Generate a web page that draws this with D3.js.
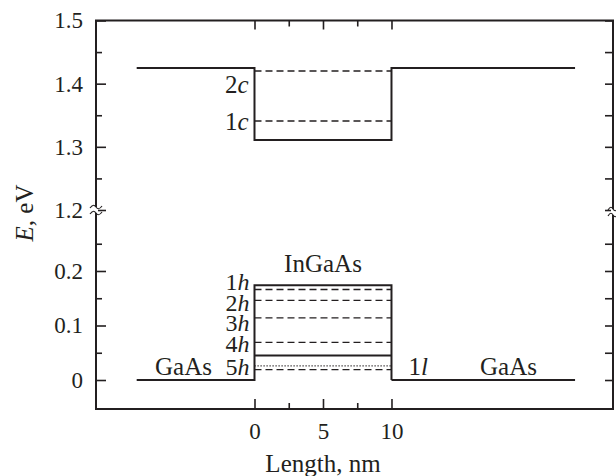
<!DOCTYPE html>
<html><head><meta charset="utf-8">
<script src="https://cdn.jsdelivr.net/npm/d3@7"></script>
<style>body{margin:0;background:#fff}svg{display:block}svg text{font-family:"Liberation Serif",serif}</style>
</head><body>
<script>
// ---- data ----
const xMajorTicks = [0, 5, 10];
const xMinorTicks = [2.5, 7.5];
const yUpperMajor = [1.2, 1.3, 1.4, 1.5];
const yUpperMinor = [1.25, 1.35, 1.45];
const yLowerMajor = [0, 0.1, 0.2];
const yLowerMinor = [0.05, 0.15, 0.25];
// conduction band profile (solid)
const conductionBand = [[-8.6,1.425],[0,1.425],[0,1.311],[10,1.311],[10,1.425],[23.4,1.425]];
// heavy-hole valence band profile (solid)
const valenceBand = [[-8.6,0],[0,0],[0,0.174],[10,0.174],[10,0]];
const valenceRight = [[10,0],[23.4,0]];
// light-hole band edge inside well
const lightHoleEdge = [[0,0.045],[10,0.045]];
// confined levels
const electronLevels = [{name:"2",s:"c",E:1.420},{name:"1",s:"c",E:1.341}];
const holeLevels = [{name:"1",s:"h",E:0.166},{name:"2",s:"h",E:0.146},{name:"3",s:"h",E:0.114},{name:"4",s:"h",E:0.069},{name:"5",s:"h",E:0.019}];
const lightLevels = [{name:"1",s:"l",E:0.026}];
const wellRange = [0, 10];

const W = 616, H = 476;
const ink = "#231f20";
const font = "Liberation Serif";
const svg = d3.select("body").append("svg").attr("width", W).attr("height", H).attr("font-family", font);

const L = 96, R = 613, T = 20.5, B = 409, BRK = 210;
const x = d3.scaleLinear().domain([-11.57, 26.17]).range([L, R]);
const yU = d3.scaleLinear().domain([1.2, 1.5]).range([BRK, T]);
const yD = d3.scaleLinear().domain([-0.0532, 0.3119]).range([B, BRK]);

const line = (ys) => d3.line().x(d => x(d[0])).y(d => ys(d[1]));

// frame
svg.append("path").attr("fill","none").attr("stroke",ink).attr("stroke-width",2)
  .attr("d", `M${L},${T}H${R}V${B}H${L}Z`);

// ticks via d3 axes (inward)
function styleAxis(g){ g.attr("font-family", font).attr("font-size", 23);
  g.select(".domain").remove(); g.selectAll("line").attr("stroke",ink).attr("stroke-width",1.6);
  g.selectAll("text").attr("fill",ink); }
const fmt = d => d === 0 ? "0" : d3.format(".1f")(d);
svg.append("g").attr("transform",`translate(${L},0)`).call(d3.axisLeft(yU).tickValues(yUpperMajor).tickSize(-10).tickPadding(13).tickFormat(fmt)).call(styleAxis);
svg.append("g").attr("transform",`translate(${L},0)`).call(d3.axisLeft(yU).tickValues(yUpperMinor).tickSize(-6).tickFormat("")).call(styleAxis);
svg.append("g").attr("transform",`translate(${L},0)`).call(d3.axisLeft(yD).tickValues(yLowerMajor).tickSize(-10).tickPadding(13).tickFormat(fmt)).call(styleAxis);
svg.append("g").attr("transform",`translate(${L},0)`).call(d3.axisLeft(yD).tickValues(yLowerMinor).tickSize(-6).tickFormat("")).call(styleAxis);
svg.append("g").attr("transform",`translate(${R},0)`).call(d3.axisRight(yU).tickValues(yUpperMajor.concat(yUpperMinor)).tickSize(-8).tickFormat("")).call(styleAxis);
svg.append("g").attr("transform",`translate(${R},0)`).call(d3.axisRight(yD).tickValues(yLowerMajor.concat(yLowerMinor)).tickSize(-8).tickFormat("")).call(styleAxis);
svg.append("g").attr("transform",`translate(0,${B})`).call(d3.axisBottom(x).tickValues(xMajorTicks).tickSize(-10).tickPadding(14).tickFormat(d3.format("d"))).call(styleAxis);
svg.append("g").attr("transform",`translate(0,${B})`).call(d3.axisBottom(x).tickValues(xMinorTicks).tickSize(-6).tickFormat("")).call(styleAxis);
svg.append("g").attr("transform",`translate(0,${T})`).call(d3.axisTop(x).tickValues(xMajorTicks).tickSize(-9).tickFormat("")).call(styleAxis);
svg.append("g").attr("transform",`translate(0,${T})`).call(d3.axisTop(x).tickValues(xMinorTicks).tickSize(-6).tickFormat("")).call(styleAxis);

// axis break marks
function breakMark(cx, cy, w){
  svg.append("rect").attr("x",cx-2).attr("y",cy-3).attr("width",4).attr("height",6).attr("fill","#fff");
  [-3,3].forEach(dy=>{
    const y0 = cy+dy;
    svg.append("path").attr("fill","none").attr("stroke",ink).attr("stroke-width",1.2)
      .attr("d",`M${cx-w/2},${y0+1} C${cx-w/4},${y0-3} ${cx-w/8},${y0-2} ${cx},${y0} S${cx+w/4},${y0+3} ${cx+w/2},${y0-1}`);
  });
}
breakMark(L, BRK, 12);
breakMark(R, BRK+2, 10);

// band profiles
const solid = (data, ys) => svg.append("path").datum(data).attr("fill","none").attr("stroke",ink).attr("stroke-width",2).attr("d", line(ys));
solid(conductionBand, yU);
solid(valenceBand, yD);
solid(valenceRight, yD);
solid(lightHoleEdge, yD);

// levels
electronLevels.forEach(d => svg.append("line").attr("x1",x(wellRange[0])).attr("x2",x(wellRange[1])).attr("y1",yU(d.E)).attr("y2",yU(d.E))
  .attr("stroke",ink).attr("stroke-width",1.4).attr("stroke-dasharray","7,4"));
holeLevels.forEach(d => svg.append("line").attr("x1",x(wellRange[0])).attr("x2",x(wellRange[1])).attr("y1",yD(d.E)).attr("y2",yD(d.E))
  .attr("stroke",ink).attr("stroke-width",1.4).attr("stroke-dasharray","7,4"));
lightLevels.forEach(d => svg.append("line").attr("x1",x(wellRange[0])).attr("x2",x(wellRange[1])).attr("y1",yD(d.E)).attr("y2",yD(d.E))
  .attr("stroke",ink).attr("stroke-width",1.2).attr("stroke-dasharray","1.2,1.8"));

// labels
function label(tx, ty, num, sub, anchor, size){
  const t = svg.append("text").attr("x",tx).attr("y",ty).attr("text-anchor",anchor||"end")
    .attr("fill",ink).attr("font-size", size||25);
  t.append("tspan").text(num);
  t.append("tspan").attr("font-style","italic").text(sub);
}
const cBaseline = [93, 130];
electronLevels.forEach((d,i) => label(x(0)-6, cBaseline[i], d.name, d.s));
const hBaseline = [290, 311, 331, 352, 375];
holeLevels.forEach((d,i) => label(x(0)-5, hBaseline[i], d.name, d.s, "end", 24));
label(x(10)+17, 375, lightLevels[0].name, lightLevels[0].s, "start");

const plain = (tx, ty, s, anchor) => svg.append("text").attr("x",tx).attr("y",ty).attr("text-anchor",anchor)
  .attr("fill",ink).attr("font-size",25).text(s);
plain(155, 375, "GaAs", "start");
plain(480, 375, "GaAs", "start");
plain(x(5), 272, "InGaAs", "middle");
plain(x(5), 472, "Length, nm", "middle");

const yl = svg.append("text").attr("transform","translate(33,213) rotate(-90)").attr("text-anchor","middle")
  .attr("fill",ink).attr("font-size",25);
yl.append("tspan").attr("font-style","italic").text("E");
yl.append("tspan").text(", eV");
</script>
</body></html>
